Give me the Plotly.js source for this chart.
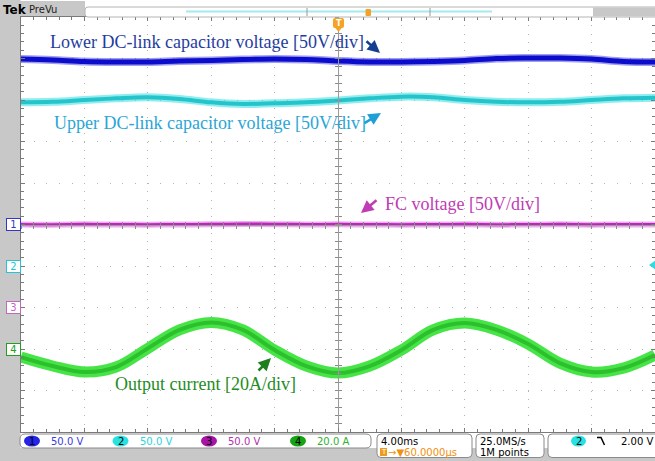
<!DOCTYPE html>
<html><head><meta charset="utf-8">
<script src="https://cdn.plot.ly/plotly-3.0.1.min.js"></script>
<style>html,body{margin:0;padding:0;background:#fff;overflow:hidden}#chart{width:655px;height:461px}</style>
</head><body><div id="chart"></div>
<script>
// ---- data ----
const timeMs = [-20,-18,-16,-14,-12,-10,-8,-6,-4,-2,0,2,4,6,8,10,12,14,16,18,20];
const lowerDcLinkV = [199.4,198.2,196.4,195.8,195.8,197.0,197.6,198.8,199.4,198.8,197.0,195.8,195.8,196.4,197.6,200.0,200.6,200.6,199.4,196.4,195.8];
const upperDcLinkV = [197.2,197.9,200.0,202.0,203.3,201.2,197.2,195.2,196.0,197.2,199.4,202.0,204.0,203.3,200.0,197.9,197.2,197.9,200.0,202.0,202.8];
const fcVoltageV   = [100.0,99.8,100.2,100.0,99.8,100.0,100.2,100.6,100.4,100.0,100.2,100.0,99.8,100.0,100.2,99.8,100.0,100.2,99.8,100.0,100.0];
const outputCurrentA = [-3.9,-8.2,-11.1,-8.7,0.3,9.2,12.8,9.2,-0.5,-8.2,-11.6,-8.2,-0.5,9.2,12.5,9.2,2.4,-6.8,-11.1,-9.2,-2.9];
const channelNames = ['1','2','3','4'];
const channelScales = ['50.0 V','50.0 V','50.0 V','20.0 A'];
const traceLabels = ['Lower DC-link capacitor voltage [50V/div]','Upper DC-link capacitor voltage [50V/div]','FC voltage [50V/div]','Output current [20A/div]'];
const timebaseText = '4.00ms', delayText = '\u2192\u25BC60.0000\u00B5s', rateText = '25.0MS/s', pointsText = '1M points', trigLevelText = '2.00 V';

// ---- geometry helpers (pixel -> paper) ----
const L = 21, T = 17, W = 634, H = 415;
const X = px => (px - L) / W;
const Y = py => (T + H - py) / H;
function rr(x0, y0, x1, y1, r) {
  return `M${X(x0+r)},${Y(y0)} L${X(x1-r)},${Y(y0)} Q${X(x1)},${Y(y0)} ${X(x1)},${Y(y0+r)} L${X(x1)},${Y(y1-r)} Q${X(x1)},${Y(y1)} ${X(x1-r)},${Y(y1)} L${X(x0+r)},${Y(y1)} Q${X(x0)},${Y(y1)} ${X(x0)},${Y(y1-r)} L${X(x0)},${Y(y0+r)} Q${X(x0)},${Y(y0)} ${X(x0+r)},${Y(y0)} Z`;
}
function ann(o) {
  return Object.assign({xref: 'paper', yref: 'paper', xanchor: 'center', yanchor: 'middle', showarrow: false}, o);
}
function shp(o) { return Object.assign({xref: 'paper', yref: 'paper'}, o); }

function band(x, y, xa, ya, outer, inner, wo, wi) {
  return [
    {x, y, xaxis: xa, yaxis: ya, type: 'scatter', mode: 'lines', line: {color: outer, width: wo, shape: 'spline', smoothing: 1}, hoverinfo: 'skip'},
    {x, y, xaxis: xa, yaxis: ya, type: 'scatter', mode: 'lines', line: {color: inner, width: wi, shape: 'spline', smoothing: 1}, hoverinfo: 'skip'}
  ];
}

const data = [
  ...band(timeMs, lowerDcLinkV, 'x', 'y', 'rgba(40,40,220,0.45)', '#0c0ccc', 8, 5),
  ...band(timeMs, upperDcLinkV, 'x2', 'y2', 'rgba(70,225,228,0.6)', '#25c4ca', 8, 4),
  ...band(timeMs, fcVoltageV, 'x3', 'y3', 'rgba(210,80,210,0.45)', '#c420c4', 6, 3),
  ...band(timeMs, outputCurrentA, 'x', 'y4', '#47e447', '#2cc02c', 11, 4)
];

const gridCol = '#b4b4b4', lineCol = '#7a7a7a';
const baseX = {range: [-20, 20], showticklabels: false, zeroline: false, fixedrange: true};
const layout = {
  width: 655, height: 461,
  margin: {l: L, r: 0, t: T, b: 461 - T - H, pad: 0},
  paper_bgcolor: '#ffffff', plot_bgcolor: '#ffffff',
  showlegend: false, hovermode: false,
  font: {family: 'DejaVu Sans', size: 10, color: '#000'},
  xaxis: Object.assign({}, baseX, {
    showgrid: true, dtick: 4, tick0: 0, gridcolor: gridCol, gridwidth: 1, griddash: '1px,7.3px',
    showline: true, linecolor: lineCol, linewidth: 1, mirror: 'ticks',
    ticks: 'inside', ticklen: 4, tickcolor: lineCol,
    minor: {dtick: 0.8, tick0: 0, ticks: 'inside', ticklen: 3, tickcolor: lineCol, showgrid: false}
  }),
  yaxis: {
    range: [-250, 250], showticklabels: false, zeroline: false, fixedrange: true,
    showgrid: true, dtick: 50, tick0: 0, gridcolor: gridCol, gridwidth: 1, griddash: '1px,11.68px',
    showline: true, linecolor: lineCol, linewidth: 1, mirror: 'ticks',
    ticks: 'inside', ticklen: 4, tickcolor: lineCol,
    minor: {dtick: 10, tick0: 0, ticks: 'inside', ticklen: 3, tickcolor: lineCol, showgrid: false}
  },
  xaxis2: Object.assign({}, baseX, {overlaying: 'x', anchor: 'free', position: 0.5, showgrid: false,
    showline: true, linecolor: '#9a9a9a', linewidth: 1, ticks: 'outside', ticklen: 3, dtick: 4, tick0: 0, tickcolor: '#8a8a8a',
    minor: {dtick: 0.8, tick0: 0, ticks: 'outside', ticklen: 3, tickcolor: '#8a8a8a', showgrid: false}}),
  xaxis3: Object.assign({}, baseX, {overlaying: 'x', anchor: 'free', position: 0.5, showgrid: false,
    showline: false, ticks: 'inside', ticklen: 3, dtick: 4, tick0: 0, tickcolor: '#8a8a8a',
    minor: {dtick: 0.8, tick0: 0, ticks: 'inside', ticklen: 3, tickcolor: '#8a8a8a', showgrid: false}}),
  yaxis2: {range: [-200, 300], overlaying: 'y', anchor: 'free', position: 0.5, side: 'left', showgrid: false,
    showticklabels: false, zeroline: false, fixedrange: true,
    showline: true, linecolor: '#9a9a9a', linewidth: 1, ticks: 'outside', ticklen: 3, dtick: 50, tick0: 0, tickcolor: '#8a8a8a',
    minor: {dtick: 10, tick0: 0, ticks: 'outside', ticklen: 3, tickcolor: '#8a8a8a', showgrid: false}},
  yaxis3: {range: [-150, 350], overlaying: 'y', anchor: 'free', position: 0.5, side: 'left', showgrid: false,
    showticklabels: false, zeroline: false, fixedrange: true,
    showline: false, ticks: 'inside', ticklen: 3, dtick: 50, tick0: 0, tickcolor: '#8a8a8a',
    minor: {dtick: 10, tick0: 0, ticks: 'inside', ticklen: 3, tickcolor: '#8a8a8a', showgrid: false}},
  yaxis4: {range: [-40, 160], overlaying: 'y', visible: false, fixedrange: true},
  shapes: [], annotations: []
};

const S = layout.shapes, A = layout.annotations;
// frame chrome
S.push(shp({type: 'rect', x0: X(0), x1: X(20.5), y0: Y(461), y1: Y(0), fillcolor: '#c8c8c8', line: {width: 0}, layer: 'below'}));
S.push(shp({type: 'rect', x0: X(0), x1: X(85), y0: Y(17), y1: Y(1), fillcolor: '#c8c8c8', line: {width: 0}, layer: 'below'}));
S.push(shp({type: 'rect', x0: X(0), x1: X(656), y0: Y(461), y1: Y(448), fillcolor: '#c8c8c8', line: {width: 0}, layer: 'below'}));
S.push(shp({type: 'path', path: rr(85, 7, 662, 17, 3), fillcolor: '#ffffff', line: {color: '#b4b4b4', width: 1}}));
S.push(shp({type: 'rect', x0: X(593), x1: X(656), y0: Y(16.5), y1: Y(7.5), fillcolor: '#c8c8c8', line: {width: 0}}));
S.push(shp({type: 'line', x0: X(186), x1: X(492), y0: Y(11.5), y1: Y(11.5), line: {color: '#a6e9f0', width: 2}}));
S.push(shp({type: 'line', x0: X(307), x1: X(307), y0: Y(8), y1: Y(16), line: {color: '#999', width: 1}}));
S.push(shp({type: 'line', x0: X(430), x1: X(430), y0: Y(8), y1: Y(16), line: {color: '#999', width: 1}}));
S.push(shp({type: 'path', path: rr(365.5, 9, 371, 16, 1), fillcolor: '#f2a22a', line: {width: 0}}));
// trigger position marker
S.push(shp({type: 'path', path: rr(333, 18, 344, 28, 2), fillcolor: '#f4a326', line: {width: 0}}));
S.push(shp({type: 'path', path: `M${X(335)},${Y(27.5)} L${X(342)},${Y(27.5)} L${X(338.5)},${Y(32)} Z`, fillcolor: '#f4a326', line: {width: 0}}));
A.push(ann({x: X(338.5), y: Y(23), text: '<b>T</b>', font: {size: 8, color: '#ffffff'}, borderpad: 0}));
A.push(ann({x: X(2), y: Y(10), xanchor: 'left', text: '<b>Tek</b>', font: {size: 12, color: '#000'}, borderpad: 0}));
A.push(ann({x: X(28), y: Y(10), xanchor: 'left', text: 'PreVu', font: {size: 10, color: '#222'}, borderpad: 0}));
// right trigger level marker (ch2)
S.push(shp({type: 'path', path: `M${X(649)},${Y(265)} L${X(656)},${Y(260)} L${X(656)},${Y(270)} Z`, fillcolor: '#30dae2', line: {width: 0}}));

// channel ground markers on the left
const markerCols = ['#3535c8', '#24c6d6', '#c266c2', '#22a022'];
['y', 'y2', 'y3', 'y4'].forEach((ya, i) => {
  A.push({xref: 'paper', yref: ya, x: X(13.5), y: 0, xanchor: 'center', yanchor: 'middle', text: '&nbsp;' + channelNames[i] + '&nbsp;', showarrow: false,
    font: {size: 10, color: markerCols[i]}, bgcolor: '#ffffff', bordercolor: markerCols[i], borderwidth: 1, borderpad: 0});
});

// trace labels and arrows
const labelCols = ['#1f3d9e', '#2aa6d6', '#c03cb4', '#238c23'];
const labelPos = [[48, 42], [52, 123], [383, 204], [113, 384]];
traceLabels.forEach((t, i) => {
  A.push(ann({x: X(labelPos[i][0]), y: Y(labelPos[i][1]), xanchor: 'left', text: t,
    font: {family: 'Liberation Serif', size: 18, color: labelCols[i]}}));
});
const arrowCols = ['#143f8f', '#1e9fd6', '#c03cb4', '#1f7f1f'];
const arrows = [[380, 53, -15, -13], [381, 113, -18, 11], [361, 213, 17, -14], [271, 358, -14, 14]];
arrows.forEach((a, i) => {
  A.push({xref: 'paper', yref: 'paper', x: X(a[0]), y: Y(a[1]), ax: a[2], ay: a[3], text: '', showarrow: true,
    arrowhead: 2, arrowsize: 1, arrowwidth: 2.5, arrowcolor: arrowCols[i], standoff: 0, startstandoff: 0});
});

// footer status bar
S.push(shp({type: 'path', path: rr(20, 434, 371, 448, 5), fillcolor: '#ffffff', line: {color: '#8a8a8a', width: 1}}));
S.push(shp({type: 'path', path: rr(377, 434, 472, 457.5, 4), fillcolor: '#ffffff', line: {color: '#8a8a8a', width: 1}}));
S.push(shp({type: 'path', path: rr(476, 434, 544, 457.5, 4), fillcolor: '#ffffff', line: {color: '#8a8a8a', width: 1}}));
S.push(shp({type: 'path', path: rr(548, 434, 664, 457.5, 4), fillcolor: '#ffffff', line: {color: '#8a8a8a', width: 1}}));
const pillCols = ['#2424e6', '#28e2e2', '#a614a6', '#14a414'];
const scaleCols = ['#3a3ae2', '#2cd2e0', '#b030b0', '#2eb02e'];
const pillX = [32, 120.5, 209, 298];
pillX.forEach((cx, i) => {
  S.push(shp({type: 'circle', x0: X(cx - 8), x1: X(cx + 8), y0: Y(446.5), y1: Y(435.5), fillcolor: pillCols[i], line: {width: 0}}));
  A.push(ann({x: X(cx), y: Y(441), text: channelNames[i], font: {size: 10, color: '#000'}, borderpad: 0}));
  A.push(ann({x: X(cx + 18), y: Y(441), xanchor: 'left', text: channelScales[i], font: {size: 10, color: scaleCols[i]}, borderpad: 0}));
});
A.push(ann({x: X(380), y: Y(441), xanchor: 'left', text: timebaseText, font: {size: 10, color: '#000'}, borderpad: 0}));
S.push(shp({type: 'rect', x0: X(380), x1: X(387), y0: Y(456), y1: Y(448), fillcolor: '#f09a1c', line: {width: 0}}));
A.push(ann({x: X(383.5), y: Y(452), text: 'T', font: {size: 7, color: '#fff'}, borderpad: 0}));
A.push(ann({x: X(387), y: Y(452), xanchor: 'left', text: delayText, font: {size: 10, color: '#f0900e'}, borderpad: 0}));
A.push(ann({x: X(479), y: Y(441), xanchor: 'left', text: rateText, font: {size: 10, color: '#000'}, borderpad: 0}));
A.push(ann({x: X(479), y: Y(452), xanchor: 'left', text: pointsText, font: {size: 10, color: '#000'}, borderpad: 0}));
S.push(shp({type: 'circle', x0: X(571), x1: X(586), y0: Y(446.5), y1: Y(435.5), fillcolor: '#28e2e2', line: {width: 0}}));
A.push(ann({x: X(578.5), y: Y(441), text: channelNames[1], font: {size: 10, color: '#000'}, borderpad: 0}));
S.push(shp({type: 'path', path: `M${X(597)},${Y(437.5)} L${X(601)},${Y(437.5)} L${X(604.5)},${Y(445)}`, line: {color: '#000', width: 1.5}}));
A.push(ann({x: X(654), y: Y(441), xanchor: 'right', text: trigLevelText, font: {size: 10, color: '#000'}, borderpad: 0}));

Plotly.newPlot('chart', data, layout, {staticPlot: true, displayModeBar: false});
</script></body></html>
